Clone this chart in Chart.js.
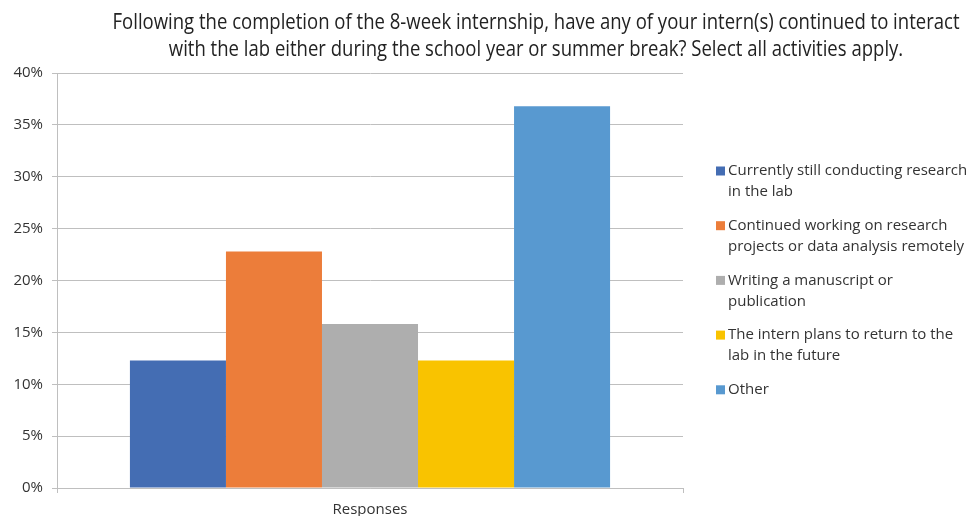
<!DOCTYPE html>
<html><head><meta charset="utf-8">
<script src="https://cdn.jsdelivr.net/npm/chart.js@4/dist/chart.umd.min.js"></script>
<style>html,body{margin:0;padding:0;background:#fff}#wrap{width:969px;height:516px;position:relative}</style>
</head><body><div id="wrap"><canvas id="c" width="969" height="516"></canvas></div>
<script>
const titleLines = ["Following the completion of the 8-week internship, have any of your intern(s) continued to interact",
                    "with the lab either during the school year or summer break? Select all activities apply."];
const categories = ["Responses"];
const seriesLabels = ["Currently still conducting research\nin the lab",
                      "Continued working on research\nprojects or data analysis remotely",
                      "Writing a manuscript or\npublication",
                      "The intern plans to return to the\nlab in the future",
                      "Other"];
const seriesValues = [[12.3],[22.8],[15.8],[12.3],[36.8]];
const seriesColors = ["#446db3","#ec7d3a","#aeaeae","#f9c300","#5899d0"];
const yTicks = [0,5,10,15,20,25,30,35,40];

const FONT = "'Open Sans', 'Liberation Sans', sans-serif";
const TEXT = "#333333";

const titlePlugin = {
  id:'condTitle',
  afterDraw(chart){
    const ctx = chart.ctx;
    ctx.save();
    ctx.fillStyle = "#222222";
    ctx.font = "21px " + FONT;
    ctx.textBaseline = 'middle';
    ctx.textAlign = 'center';
    const w0 = ctx.measureText(titleLines[0]).width;
    const sx = 847 / w0;
    const cx = 536;
    const ys = [23, 50];
    titleLines.forEach((t,i)=>{
      ctx.save();
      ctx.translate(cx, ys[i]);
      ctx.scale(sx,1);
      ctx.fillText(t,0,0);
      ctx.restore();
    });
    ctx.restore();
  }
};

const legendPlugin = {
  id:'sideLegend',
  afterDraw(chart){
    const ctx = chart.ctx;
    ctx.save();
    ctx.font = "15px " + FONT;
    ctx.textBaseline = 'middle';
    ctx.textAlign = 'left';
    const x0 = 716, tx = 728;
    let y = 171;
    chart.data.datasets.forEach((ds,i)=>{
      const lines = ds.label.split("\n");
      ctx.fillStyle = ds.backgroundColor;
      ctx.fillRect(x0, y-4.5, 9, 9);
      ctx.fillStyle = TEXT;
      lines.forEach((l,j)=>ctx.fillText(l, tx, y + j*21));
      y += 54.7;
    });
    ctx.restore();
  }
};

new Chart(document.getElementById('c'), {
  type:'bar',
  data:{
    labels: categories,
    datasets: seriesLabels.map((lab,i)=>({
      label: lab,
      data: seriesValues[i],
      backgroundColor: seriesColors[i],
      borderWidth: 0,
      barPercentage: 1,
      categoryPercentage: 0.767
    }))
  },
  options:{
    responsive:false,
    animation:false,
    devicePixelRatio:1,
    layout:{padding:{top:73,left:0,right:286,bottom:0}},
    plugins:{legend:{display:false},title:{display:false},tooltip:{enabled:false}},
    scales:{
      x:{
        grid:{display:true,drawOnChartArea:false,drawTicks:true,tickLength:5,color:'#bfbfbf',offset:true},
        border:{display:true,color:'#bfbfbf',width:1},
        ticks:{color:TEXT,font:{family:FONT,size:15},padding:8},
        afterFit(s){ s.height = 28; }
      },
      y:{
        min:0,max:40,
        afterBuildTicks(s){ s.ticks = yTicks.map(v=>({value:v})); },
        grid:{color:'#bfbfbf',tickLength:5,drawTicks:true},
        border:{display:true,color:'#bfbfbf',width:1},
        ticks:{color:TEXT,font:{family:FONT,size:15},padding:9,callback:v=>v+'%'},
        afterFit(s){ s.width = 57; }
      }
    }
  },
  plugins:[titlePlugin, legendPlugin]
});
</script></body></html>
